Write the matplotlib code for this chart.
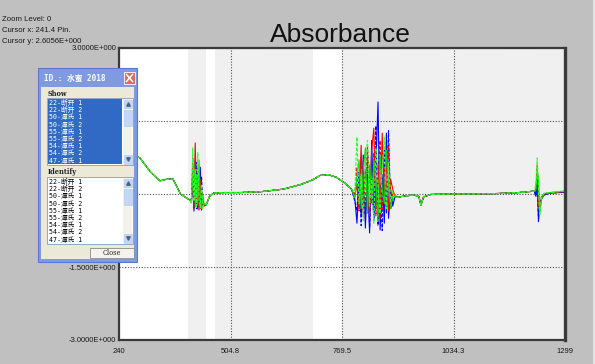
import matplotlib.pyplot as plt
from matplotlib.patches import Rectangle

# wavenumber points (Pin.)
wavenumber = [240, 265, 290, 315, 337, 352, 368, 378, 386, 398, 408,
              412, 415, 418, 421, 424, 427, 430, 433, 436, 439, 442,
              447, 455, 465, 490, 530, 580, 630, 670, 700, 717, 735, 755, 777, 792,
              800, 805, 810, 815, 820, 825, 830, 835, 840, 845,
              850, 855, 860, 865, 870, 875, 880, 885, 890, 895,
              905, 920, 940, 952, 957, 963, 980, 1020, 1080, 1140, 1190, 1215, 1226,
              1230, 1233, 1236, 1239, 1243, 1250, 1265, 1285, 1299]

# parts where all samples lie on top of each other
smooth_head = [0.95, 0.85, 0.74, 0.45, 0.27, 0.30, 0.31, 0.14, 0.00, -0.07, -0.12]
smooth_mid = [-0.22, -0.05, 0.02, 0.03, 0.03, 0.05, 0.10, 0.19, 0.29, 0.38, 0.40, 0.35, 0.22, 0.10]
smooth_tail = [-0.06, -0.04, -0.02, -0.05, -0.23, -0.06, -0.01, 0.00, 0.00, 0.01, 0.03, 0.05, 0.06]

# noisy parts, one list per sample
red1_n1 = [-0.15, 0.40, -0.30, 1.05, -0.25, 0.60, -0.33, 0.30, -0.28, -0.10, -0.25]
red1_n2 = [-0.05, 0.20, -0.30, 1.00, -0.40, 0.50, 0.10, -0.45, 0.90, 1.35,
           -0.30, 0.60, -0.50, 1.25, -0.20, 0.80, -0.35, 0.30, 0.10, -0.05]
red1_n3 = [0.10, 0.60, -0.20, -0.35, -0.10, 0.00, 0.02, 0.04, 0.05]

lime1_n1 = [-0.20, 0.95, -0.15, 0.50, -0.30, 0.85, -0.10, -0.28, 0.20, -0.30, -0.20]
lime1_n2 = [0.05, 1.17, -0.20, 0.40, -0.55, 0.70, 1.10, -0.25, 0.30, -0.60,
            0.95, 0.20, -0.40, 0.50, 1.17, -0.30, 0.65, -0.15, 0.05, -0.08]
lime1_n3 = [0.20, 0.74, 0.10, -0.45, -0.05, 0.02, 0.03, 0.05, 0.06]

blue1_n1 = [-0.10, 0.20, -0.35, 0.70, -0.30, 0.35, -0.25, 0.55, -0.33, -0.15, -0.22]
blue1_n2 = [-0.10, -0.60, 0.30, -0.45, 0.80, -0.70, 0.40, -0.80, 1.10, -0.55,
            0.60, 1.89, -0.74, 0.40, -0.60, 1.25, -0.50, 0.10, -0.25, -0.06]
blue1_n3 = [-0.05, 0.40, -0.57, -0.20, -0.10, -0.02, 0.02, 0.03, 0.04]

red2_n1 = [-0.18, 0.75, -0.20, 0.35, -0.32, 0.15, 0.45, -0.30, 0.10, -0.25, -0.18]
red2_n2 = [0.00, 0.55, -0.35, 0.75, 0.20, -0.50, 1.00, 0.30, -0.20, 0.85,
           -0.45, 0.40, 1.10, -0.30, 0.55, 0.10, 1.00, -0.20, 0.00, -0.04]
red2_n3 = [0.05, 0.30, 0.15, -0.30, -0.08, 0.01, 0.03, 0.04, 0.05]

lime2_n1 = [-0.12, 0.30, 0.60, -0.25, 0.40, -0.20, 0.70, -0.15, -0.30, 0.00, -0.20]
lime2_n2 = [-0.08, 0.35, 0.70, -0.30, 0.50, 0.95, -0.40, 0.60, -0.10, 0.70,
            0.30, -0.55, 0.80, 0.10, -0.20, 0.90, 0.20, -0.30, -0.05, -0.06]
lime2_n3 = [0.08, 0.50, 0.30, -0.40, -0.12, 0.01, 0.03, 0.05, 0.06]

blue2_n1 = [-0.14, 0.50, -0.28, 0.20, 0.65, -0.32, 0.25, -0.20, 0.35, -0.22, -0.24]
blue2_n2 = [-0.15, -0.35, 0.45, -0.65, 0.20, -0.40, 0.85, -0.70, 0.30, -0.50,
            1.40, -0.65, 0.20, -0.75, 0.90, -0.40, 1.30, -0.30, -0.15, -0.07]
blue2_n3 = [-0.02, 0.20, -0.50, -0.30, -0.06, 0.00, 0.02, 0.03, 0.04]

x_ticks = [240, 504.8, 769.5, 1034.3, 1299]
x_labels = ['240', '504.8', '769.5', '1034.3', '1299']
y_ticks = [3, 1.5, 0, -1.5, -3]
# 1.5 and 0 labels sit behind the dialog in the screenshot
y_labels = ['3.0000E+000', '', '', '-1.5000E+000', '-3.0000E+000']
gray_bands = [(404, 447), (468, 700), (769.5, 1299)]

samples = ['22-断开 1', '22-断开 2', '50-潭氏 1', '50-潭氏 2', '55-潭氏 1',
           '55-潭氏 2', '54-潭氏 1', '54-潭氏 2', '47-潭氏 1']


def series(n1, n2, n3):
    return smooth_head + n1 + smooth_mid + n2 + smooth_tail + n3


fig = plt.figure(figsize=(5.95, 3.64), dpi=100, facecolor='#c0c0c0')
ax = fig.add_axes([119 / 595, 1 - 340 / 364, 446 / 595, 292 / 364])
ax.set_facecolor('white')
for a, b in gray_bands:
    ax.axvspan(a, b, color='#f0f0f0', lw=0, zorder=0.2)

lines = [
    (blue2_n1, blue2_n2, blue2_n3, '#0000ff', (0, (3, 1.5))),
    (red2_n1, red2_n2, red2_n3, '#ff0000', (0, (3, 1.5))),
    (blue1_n1, blue1_n2, blue1_n3, '#0000ff', '-'),
    (red1_n1, red1_n2, red1_n3, '#ff0000', '-'),
    (lime2_n1, lime2_n2, lime2_n3, '#00e000', '-'),
    (lime1_n1, lime1_n2, lime1_n3, '#33ff33', (0, (3, 1.5))),
]
for n1, n2, n3, c, ls in lines:
    ax.plot(wavenumber, series(n1, n2, n3), color=c, ls=ls, lw=0.8)

ax.set_xlim(240, 1299)
ax.set_ylim(-3, 3)
ax.set_xticks(x_ticks)
ax.set_xticklabels(x_labels)
ax.set_yticks(y_ticks)
ax.set_yticklabels(y_labels)
ax.tick_params(length=0, labelsize=5.5, colors='#1a1a1a')
ax.tick_params(axis='x', pad=6)
ax.tick_params(axis='y', pad=2)
for lab in ax.get_xticklabels() + ax.get_yticklabels():
    lab.set_family('Liberation Sans')
ax.grid(True, ls=(0, (1, 1.5)), color='#505050', lw=0.8)
ax.set_axisbelow(True)
for s in ax.spines.values():
    s.set_color('#3a3a3a')
    s.set_linewidth(1.6)
ax.spines['right'].set_linewidth(2.4)

# overlay in screen pixels for the texts and the dialog
ov = fig.add_axes([0, 0, 1, 1])
ov.set_xlim(0, 595)
ov.set_ylim(364, 0)
ov.axis('off')
ov.set_zorder(5)
ov.patch.set_alpha(0)


def rect(x0, y0, x1, y1, fc, ec='none', lw=0):
    ov.add_patch(Rectangle((x0, y0), x1 - x0, y1 - y0, fc=fc, ec=ec, lw=lw))


rect(592.5, 0, 595, 364, '#e4e4e4')
ov.text(340.5, 42, 'Absorbance', fontsize=19, family='Liberation Sans',
        color='#111111', ha='center', va='baseline')
for yy, t in [(21, 'Zoom Level: 0'), (32, 'Cursor x: 241.4 Pin.'), (43, 'Cursor y: 2.6056E+000')]:
    ov.text(2, yy, t, fontsize=5.6, family='Liberation Sans', color='#1a1a1a', va='baseline')

# dialog window
cjk = ['DejaVu Sans Mono', 'Noto Sans CJK SC']
rect(38, 68, 137, 262, '#809ae2', ec='#5a78d0', lw=0.8)
ov.text(44, 78, 'ID.: 水蜜 2018', fontsize=5.5, family=cjk, color='white',
        va='center', weight='bold')
rect(124, 72, 135, 84, '#d8705f', ec='white', lw=0.6)
ov.plot([126.5, 132.5], [74.5, 81.5], color='white', lw=1.1)
ov.plot([126.5, 132.5], [81.5, 74.5], color='white', lw=1.1)
rect(41, 87, 134, 259, '#ece9d8')

ov.text(48, 94, 'Show', fontsize=4.8, family='DejaVu Serif', weight='bold',
        color='#222222', va='center')
ov.text(48, 172, 'Identify', fontsize=4.8, family='DejaVu Serif', weight='bold',
        color='#222222', va='center')


def listbox(y0, y1, selected):
    rect(47, y0, 133, y1, 'white', ec='#7f9db9', lw=0.6)
    if selected:
        rect(48, y0 + 1, 122, y1 - 1, '#316ac5')
    step = (y1 - y0 - 2) / 9
    for i, name in enumerate(samples):
        ov.text(49, y0 + 1 + step * (i + 0.5), name, fontsize=4.8, family=cjk,
                color='white' if selected else 'black', va='center')
    rect(123, y0 + 1, 132, y1 - 1, '#f3f1ec')
    rect(123.5, y0 + 1.5, 131.5, y0 + 10, '#c4d5fc', ec='#b0c4f0', lw=0.4)
    rect(123.5, y1 - 10, 131.5, y1 - 1.5, '#c4d5fc', ec='#b0c4f0', lw=0.4)
    rect(123.5, y0 + 12, 131.5, y0 + 28, '#c4d5fc', ec='#b0c4f0', lw=0.4)
    ov.plot(127.5, y0 + 6, marker='^', ms=2.5, color='#4d6185')
    ov.plot(127.5, y1 - 6, marker='v', ms=2.5, color='#4d6185')


listbox(98, 165, True)
listbox(177, 244, False)
rect(90, 248, 134, 258, '#f4f3ee', ec='#8a8a8a', lw=0.6)
ov.text(112, 253, 'Close', fontsize=4.8, family='DejaVu Serif', color='#222222',
        ha='center', va='center')

plt.savefig('out.png', dpi=100, facecolor=fig.get_facecolor())
